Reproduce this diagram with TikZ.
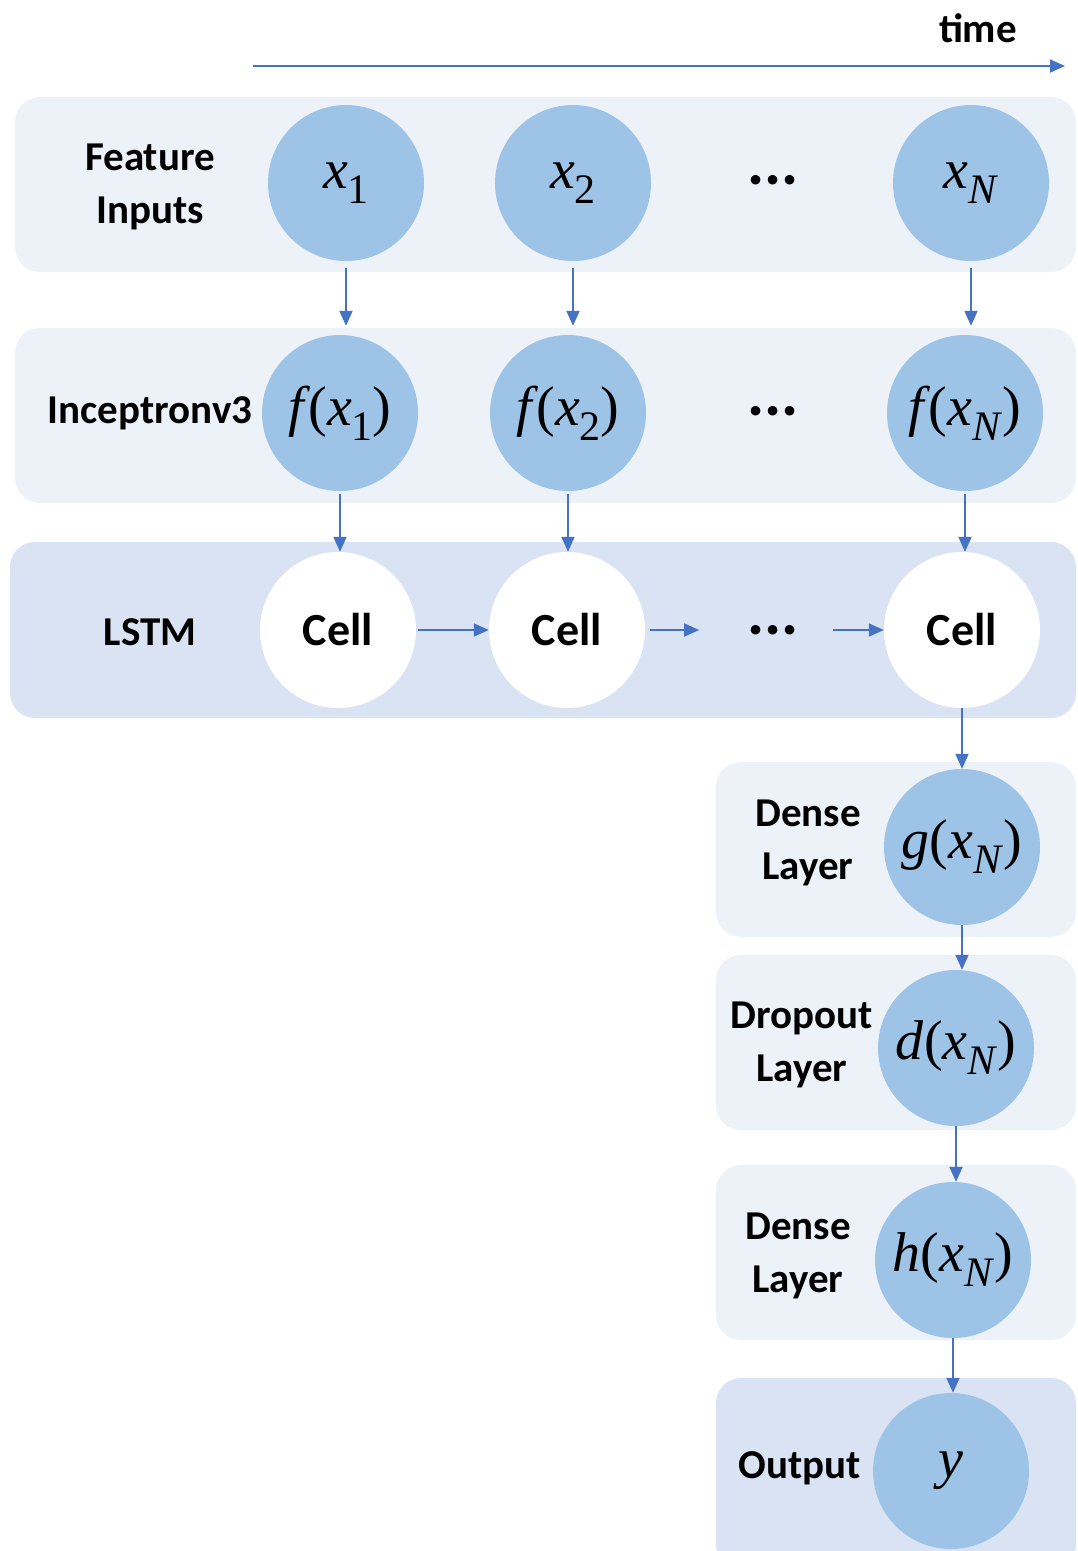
\documentclass[tikz,border=0pt]{standalone}
\usepackage{fontspec}
\setmainfont{Carlito}
\newfontfamily\tnr{Liberation Serif}
\usetikzlibrary{arrows.meta,positioning}

\definecolor{nodeblue}{HTML}{9DC3E6}
\definecolor{bandlight}{HTML}{EDF2F9}
\definecolor{banddark}{HTML}{DAE3F3}
\definecolor{arrowblue}{HTML}{4472C4}

% italic variable with a lowered index
\newcommand{\vsub}[2]{\textit{#1}\raisebox{-15pt}{\fontsize{42}{42}\selectfont #2}}
\newcommand{\fof}[3]{\textit{#1}\kern-2pt(\vsub{#2}{#3})}

\begin{document}
\begin{tikzpicture}[
    x=1pt,y=1pt,
    every node/.style={align=center,font=\bfseries\fontsize{41}{53}\selectfont},
    feat/.style={circle,fill=nodeblue,minimum size=156pt,inner sep=0pt,font=\tnr\fontsize{56}{60}\selectfont},
    cell/.style={circle,fill=white,minimum size=156pt,inner sep=0pt,font=\bfseries\fontsize{46}{50}\selectfont},
    dots/.style={inner sep=0pt,font=\bfseries\fontsize{64}{64}\selectfont},
    band/.style={fill=bandlight,rounded corners=25pt},
    darkband/.style={fill=banddark,rounded corners=25pt},
    arrow/.style={-{Triangle[length=15pt,width=13pt]},line width=1.8pt,draw=arrowblue}
]
\useasboundingbox (0,0) rectangle (1078,-1551);

% =====================
% BANDS
% =====================
\fill[band] (15,-97) rectangle (1076,-272);
\fill[band] (15,-328) rectangle (1076,-503);
\fill[darkband] (10,-542) rectangle (1076,-718);
\fill[band] (716,-762) rectangle (1076,-937);
\fill[band] (716,-955) rectangle (1076,-1130);
\fill[band] (716,-1165) rectangle (1076,-1340);
\fill[darkband] (716,-1378) rectangle (1076,-1570);

% =====================
% TIME AXIS
% =====================
\node (time) at (978,-28) {time};
\coordinate (tstart) at (253,-66);
\coordinate (tend) at (1065,-66);
\draw[arrow] (tstart) -- (tend);

% =====================
% FEATURE INPUTS
% =====================
\node (lblin) at (150,-187) {Feature\\Inputs};
\node[feat] (x1) at (346,-183) {\vsub{x}{1}};
\node[feat] (x2) at (573,-183) {\vsub{x}{2}};
\node[dots] (dotsa) at (773,-180) {...};
\node[feat] (xN) at (971,-183) {\vsub{x}{\textit{N}}};

% =====================
% INCEPTION
% =====================
\node (lblinc) at (150,-413) {Inceptronv3};
\node[feat] (f1) at (340,-413) {\fof{f}{x}{1}};
\node[feat] (f2) at (568,-413) {\fof{f}{x}{2}};
\node[dots] (dotsb) at (773,-411) {...};
\node[feat] (fN) at (965,-413) {\fof{f}{x}{\textit{N}}};

% =====================
% LSTM
% =====================
\node (lbllstm) at (150,-632) {LSTM};
\node[cell] (c1) at (338,-630) {Cell};
\node[cell] (c2) at (567,-630) {Cell};
\node[dots] (dotsc) at (773,-630) {...};
\node[cell] (cN) at (962,-630) {Cell};

% =====================
% HEAD
% =====================
\node (lblg) at (808,-843) {Dense\\Layer};
\node[feat] (g) at (962,-847) {\textit{g}(\vsub{x}{\textit{N}})};
\node (lbld) at (802,-1045) {Dropout\\Layer};
\node[feat] (d) at (956,-1048) {\textit{d}(\vsub{x}{\textit{N}})};
\node (lblh) at (798,-1256) {Dense\\Layer};
\node[feat] (h) at (953,-1260) {\textit{h}(\vsub{x}{\textit{N}})};
\node (lblout) at (800,-1468) {Output};
\node[feat] (y) at (951,-1471) {\textit{y}};

% Inputs -> Inceptron
\draw[arrow,shorten <=7pt,shorten >=9pt] (x1.south) -- (x1.south |- f1.north);
\draw[arrow,shorten <=7pt,shorten >=9pt] (x2.south) -- (x2.south |- f2.north);
\draw[arrow,shorten <=7pt,shorten >=9pt] (xN.south) -- (xN.south |- fN.north);

% Inceptron -> cells
\draw[arrow,shorten <=3pt] (f1.south) -- (f1.south |- c1.north);
\draw[arrow,shorten <=3pt] (f2.south) -- (f2.south |- c2.north);
\draw[arrow,shorten <=3pt] (fN.south) -- (fN.south |- cN.north);

% Cell chain
\draw[arrow,shorten <=2pt] (c1.east) -- (c2.west);
\draw[arrow,shorten <=5pt,shorten >=48pt] (c2.east) -- (dotsc.west);
\draw[arrow,shorten <=34pt] (dotsc.east) -- (cN.west);

% Head
\draw[arrow] (cN.south) -- (cN.south |- g.north);
\draw[arrow] (g.south) -- (g.south |- d.north);
\draw[arrow] (d.south) -- (d.south |- h.north);
\draw[arrow] (h.south) -- (h.south |- y.north);

\end{tikzpicture}
\end{document}
